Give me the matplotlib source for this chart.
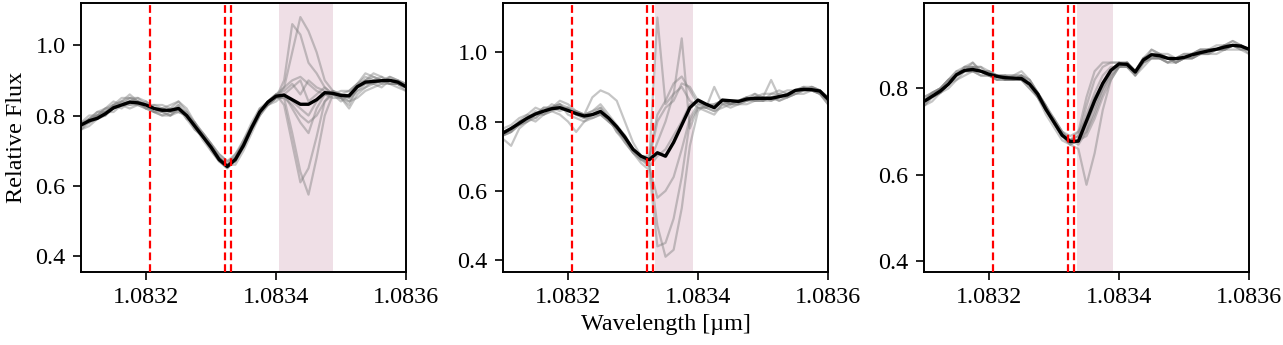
import numpy as np
import matplotlib
matplotlib.use("Agg")
import matplotlib.pyplot as plt

plt.rcParams['font.family'] = ['Liberation Serif', 'DejaVu Serif']
plt.rcParams['font.size'] = 17.4
plt.rcParams['mathtext.fontset'] = 'stix'

# wavelength grid [um], 41 samples between 1.0831 and 1.0836
wave = np.linspace(1.0831, 1.0836, 41)

# He I triplet positions [um]
he_lines = [1.083206, 1.083322, 1.083331]

# shaded (planet trail) windows, one per panel
shade = [(1.083404, 1.083487), (1.083334, 1.083392), (1.083335, 1.083391)]

# panel 1: mean spectrum and single exposures
mean1 = [0.773, 0.785, 0.792, 0.805, 0.822, 0.830, 0.838, 0.836, 0.830, 0.820, 0.815,
         0.815, 0.820, 0.800, 0.770, 0.740, 0.710, 0.675, 0.655, 0.675, 0.715, 0.765,
         0.810, 0.838, 0.855, 0.858, 0.845, 0.832, 0.832, 0.845, 0.865, 0.863, 0.857,
         0.856, 0.882, 0.895, 0.897, 0.899, 0.900, 0.895, 0.882]
exp1 = [
    [.77, .79, .80, .81, .83, .84, .85, .84, .82, .81, .82, .81, .83, .80, .77, .73, .70, .67, .65, .68, .72,
     .77, .81, .84, .86, .88, .98, 1.08, 1.04, .98, .90, .87, .86, .85, .88, .90, .91, .90, .90, .89, .88],
    [.76, .78, .79, .80, .82, .83, .84, .85, .83, .82, .81, .82, .82, .79, .76, .74, .71, .68, .66, .67, .71,
     .76, .80, .83, .85, .90, 1.06, 1.03, .95, .92, .88, .86, .84, .86, .89, .91, .90, .91, .90, .89, .87],
    [.78, .78, .80, .82, .84, .83, .83, .83, .84, .82, .81, .80, .82, .81, .78, .75, .72, .68, .66, .66, .70,
     .75, .80, .84, .85, .85, .75, .64, .575, .68, .80, .86, .86, .85, .87, .89, .89, .90, .89, .89, .88],
    [.77, .79, .79, .81, .82, .84, .83, .84, .83, .83, .82, .81, .81, .80, .76, .74, .71, .67, .65, .67, .72,
     .77, .82, .84, .86, .83, .72, .61, .65, .74, .84, .87, .85, .86, .88, .89, .90, .89, .91, .90, .89],
    [.76, .79, .80, .80, .83, .82, .84, .83, .82, .83, .83, .82, .84, .81, .77, .74, .70, .67, .66, .68, .73,
     .78, .82, .83, .85, .86, .82, .78, .75, .82, .86, .86, .85, .84, .87, .88, .90, .90, .90, .89, .88],
    [.77, .78, .80, .81, .83, .84, .86, .84, .82, .81, .80, .81, .83, .79, .78, .75, .72, .69, .67, .69, .72,
     .76, .80, .83, .85, .88, .90, .91, .89, .87, .86, .87, .86, .87, .89, .92, .91, .90, .91, .90, .89],
    [.78, .80, .80, .82, .82, .83, .85, .85, .84, .82, .82, .83, .84, .82, .78, .74, .71, .68, .66, .69, .73,
     .77, .81, .84, .86, .87, .89, .86, .90, .88, .87, .86, .85, .83, .88, .90, .89, .88, .90, .90, .88],
    [.76, .77, .79, .81, .81, .83, .84, .84, .83, .81, .81, .80, .81, .80, .77, .75, .72, .69, .67, .68, .71,
     .76, .81, .83, .85, .85, .83, .80, .78, .80, .84, .86, .86, .84, .85, .87, .88, .89, .89, .89, .88],
    [.77, .79, .81, .81, .82, .83, .82, .83, .82, .82, .82, .81, .82, .80, .78, .74, .71, .68, .66, .68, .72,
     .77, .81, .83, .84, .86, .88, .90, .84, .86, .88, .86, .87, .87, .89, .90, .92, .91, .89, .89, .88],
    [.78, .79, .81, .82, .83, .85, .85, .84, .83, .81, .80, .80, .82, .80, .77, .74, .71, .68, .66, .67, .72,
     .77, .81, .84, .86, .86, .84, .82, .80, .84, .86, .85, .85, .82, .86, .88, .89, .90, .89, .88, .87],
]

# panel 2
mean2 = [0.767, 0.780, 0.795, 0.810, 0.822, 0.830, 0.837, 0.840, 0.832, 0.823, 0.816,
         0.820, 0.829, 0.810, 0.785, 0.755, 0.720, 0.700, 0.690, 0.710, 0.700, 0.740,
         0.790, 0.840, 0.862, 0.850, 0.840, 0.862, 0.860, 0.858, 0.865, 0.867, 0.867,
         0.867, 0.872, 0.877, 0.890, 0.893, 0.892, 0.888, 0.865]
exp2 = [
    [.76, .77, .79, .80, .82, .82, .84, .83, .84, .82, .82, .83, .85, .82, .79, .76, .72, .70, .69, 1.10, .85,
     .88, .90, .86, .84, .84, .85, .86, .85, .86, .87, .86, .87, .92, .87, .88, .89, .89, .89, .88, .86],
    [.75, .73, .78, .80, .81, .83, .84, .85, .83, .83, .82, .87, .89, .88, .86, .80, .74, .70, .68, .74, .80,
     .88, 1.04, .78, .84, .84, .90, .85, .86, .86, .86, .87, .87, .87, .88, .87, .89, .90, .89, .89, .87],
    [.77, .78, .80, .81, .83, .82, .83, .84, .84, .82, .81, .82, .83, .80, .78, .74, .71, .69, .68, .50, .41,
     .43, .55, .73, .83, .85, .84, .86, .86, .86, .87, .88, .87, .86, .87, .88, .89, .89, .90, .89, .86],
    [.76, .78, .80, .82, .81, .83, .85, .84, .83, .82, .81, .81, .82, .81, .77, .75, .71, .68, .66, .44, .45,
     .52, .64, .80, .84, .83, .82, .85, .85, .86, .87, .86, .86, .87, .86, .87, .88, .89, .89, .88, .85],
    [.78, .79, .81, .82, .84, .83, .84, .86, .85, .83, .82, .83, .84, .81, .78, .76, .72, .70, .67, .58, .60,
     .64, .72, .81, .85, .85, .84, .86, .85, .85, .86, .88, .86, .86, .87, .87, .88, .88, .89, .88, .86],
    [.76, .77, .79, .81, .80, .82, .83, .82, .80, .77, .80, .81, .82, .80, .78, .75, .72, .70, .70, .82, .86,
     .91, .93, .89, .85, .84, .83, .84, .85, .85, .86, .86, .86, .88, .89, .88, .89, .90, .90, .89, .86],
    [.77, .78, .79, .80, .82, .84, .84, .85, .82, .81, .80, .82, .84, .81, .77, .74, .71, .69, .69, .80, .84,
     .86, .91, .90, .86, .85, .85, .86, .85, .86, .86, .87, .88, .88, .88, .89, .89, .89, .90, .89, .87],
    [.76, .77, .80, .81, .82, .84, .84, .85, .84, .83, .82, .82, .82, .80, .78, .75, .72, .69, .67, .70, .72,
     .76, .80, .85, .86, .84, .83, .85, .84, .85, .85, .86, .86, .87, .86, .87, .88, .89, .89, .88, .85],
]

# panel 3
mean3 = [0.770, 0.782, 0.794, 0.810, 0.832, 0.842, 0.844, 0.840, 0.833, 0.828, 0.825,
         0.824, 0.823, 0.810, 0.787, 0.752, 0.722, 0.692, 0.677, 0.678, 0.725, 0.772,
         0.812, 0.842, 0.857, 0.856, 0.838, 0.866, 0.878, 0.876, 0.870, 0.869, 0.872,
         0.878, 0.883, 0.887, 0.891, 0.896, 0.900, 0.898, 0.891]
exp3 = [
    [.77, .79, .80, .82, .84, .85, .85, .84, .84, .83, .82, .82, .83, .81, .78, .75, .72, .69, .67, .66, .577,
     .65, .75, .82, .85, .86, .84, .86, .88, .87, .86, .87, .87, .88, .88, .89, .89, .90, .90, .90, .89],
    [.76, .78, .80, .81, .83, .84, .85, .85, .83, .83, .83, .82, .82, .81, .79, .76, .72, .69, .68, .70, .78,
     .84, .86, .86, .86, .85, .84, .87, .88, .87, .87, .87, .87, .88, .88, .89, .89, .89, .90, .90, .89],
    [.77, .78, .79, .81, .83, .84, .86, .84, .83, .82, .82, .83, .83, .81, .78, .75, .72, .69, .68, .68, .69,
     .73, .78, .82, .85, .86, .84, .86, .89, .88, .87, .86, .87, .88, .89, .89, .89, .90, .91, .90, .89],
    [.76, .78, .79, .81, .82, .84, .84, .84, .83, .83, .82, .82, .82, .80, .78, .75, .72, .69, .67, .68, .70,
     .74, .79, .83, .85, .85, .83, .86, .87, .87, .87, .87, .87, .87, .88, .88, .89, .89, .90, .89, .88],
    [.78, .79, .80, .82, .84, .84, .84, .83, .83, .82, .83, .82, .83, .81, .79, .75, .73, .70, .68, .69, .76,
     .82, .85, .86, .86, .85, .84, .87, .88, .88, .87, .87, .88, .88, .89, .89, .89, .90, .90, .90, .89],
    [.77, .78, .79, .81, .83, .85, .85, .85, .84, .83, .82, .82, .82, .81, .78, .75, .72, .69, .68, .67, .70,
     .75, .80, .84, .86, .86, .84, .87, .89, .88, .87, .86, .87, .88, .88, .89, .90, .90, .90, .90, .89],
    [.76, .77, .79, .81, .83, .84, .84, .84, .83, .83, .82, .82, .83, .82, .79, .76, .73, .70, .68, .68, .71,
     .77, .81, .84, .85, .85, .83, .85, .87, .87, .86, .86, .87, .87, .88, .88, .89, .89, .90, .89, .89],
    [.77, .79, .80, .82, .83, .84, .85, .84, .84, .83, .83, .83, .84, .82, .79, .76, .72, .69, .68, .69, .72,
     .76, .80, .83, .85, .86, .83, .86, .87, .87, .86, .87, .87, .87, .88, .89, .89, .89, .90, .90, .88],
    [.77, .78, .79, .80, .82, .83, .84, .83, .83, .82, .82, .82, .82, .80, .78, .74, .71, .68, .67, .68, .74,
     .79, .83, .85, .85, .85, .84, .86, .87, .87, .87, .86, .87, .87, .88, .88, .88, .89, .89, .89, .89],
    [.78, .79, .80, .82, .83, .85, .86, .84, .83, .83, .83, .83, .83, .82, .79, .76, .73, .70, .69, .70, .73,
     .78, .81, .84, .86, .86, .84, .87, .88, .88, .88, .87, .88, .88, .89, .89, .89, .90, .91, .90, .89],
]

means = [mean1, mean2, mean3]
exposures = [exp1, exp2, exp3]
ylims = [(0.355, 1.12), (0.366, 1.142), (0.375, 0.998)]

fig = plt.figure(figsize=(12.83, 3.45), dpi=100)
lefts = [81 / 1283, 503 / 1283, 924 / 1283]
axes = [fig.add_axes([l, 73 / 345, 325 / 1283, 269 / 345]) for l in lefts]

for k, ax in enumerate(axes):
    ax.axvspan(shade[k][0], shade[k][1], color='#efdfe6', lw=0, zorder=0)
    for e in exposures[k]:
        ax.plot(wave, e, color='gray', alpha=0.45, lw=1.6, zorder=1)
    ax.plot(wave, means[k], color='black', lw=2.4, zorder=2)
    for h in he_lines:
        ax.axvline(h, color='red', ls=(0, (3.5, 1.8)), lw=1.6, zorder=3)
    ax.set_xlim(1.0831, 1.0836)
    ax.set_ylim(*ylims[k])
    ax.set_xticks([1.0832, 1.0834, 1.0836])
    ax.set_xticklabels(['1.0832', '1.0834', '1.0836'])
    if k == 2:
        ax.set_yticks([0.4, 0.6, 0.8])
    else:
        ax.set_yticks([0.4, 0.6, 0.8, 1.0])
    ax.tick_params(direction='out', length=6, width=1.2, pad=5)
    for s in ax.spines.values():
        s.set_linewidth(1.4)

axes[0].set_ylabel('Relative Flux', labelpad=6)
axes[1].set_xlabel('Wavelength [µm]', labelpad=4)

fig.savefig('out.png', dpi=100)
